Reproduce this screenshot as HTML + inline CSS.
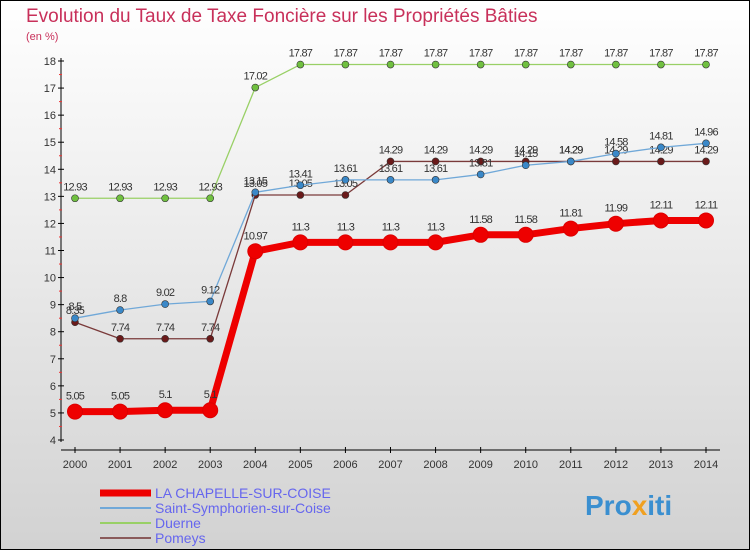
<!DOCTYPE html>
<html><head><meta charset="utf-8"><style>
body{margin:0;width:750px;height:550px;overflow:hidden;font-family:"Liberation Sans",sans-serif}
svg{display:block}
</style></head><body>
<svg id="c" width="750" height="550" xmlns="http://www.w3.org/2000/svg">
<defs><linearGradient id="bg" x1="0" y1="0" x2="0" y2="1"><stop offset="0" stop-color="#ffffff"/><stop offset="1" stop-color="#d2d2d2"/></linearGradient></defs>
<rect x="0.5" y="0.5" width="749" height="549" fill="url(#bg)" stroke="#000"/>
<text x="26" y="22" font-size="19" fill="#c8305a">Evolution du Taux de Taxe Foncière sur les Propriétés Bâties</text>
<text x="26" y="40" font-size="11" fill="#c8305a">(en %)</text>
<g id="axes"></g><g id="series"></g><g id="legend"></g>
<text x="585" y="515" font-size="28" font-weight="bold" fill="#3a8fd0">Pro<tspan fill="#f0a020">x</tspan>iti</text>
</svg>
<script>
const years=[2000,2001,2002,2003,2004,2005,2006,2007,2008,2009,2010,2011,2012,2013,2014];
const yTicks=[4,5,6,7,8,9,10,11,12,13,14,15,16,17,18];
const seriesNames=["LA CHAPELLE-SUR-COISE","Saint-Symphorien-sur-Coise","Duerne","Pomeys"];
const laChapelle=[5.05,5.05,5.1,5.1,10.97,11.3,11.3,11.3,11.3,11.58,11.58,11.81,11.99,12.11,12.11];
const saintSymph=[8.5,8.8,9.02,9.12,13.15,13.41,13.61,13.61,13.61,13.81,14.15,14.29,14.58,14.81,14.96];
const duerne=[12.93,12.93,12.93,12.93,17.02,17.87,17.87,17.87,17.87,17.87,17.87,17.87,17.87,17.87,17.87];
const pomeys=[8.35,7.74,7.74,7.74,13.05,13.05,13.05,14.29,14.29,14.29,14.29,14.29,14.29,14.29,14.29];
const NS="http://www.w3.org/2000/svg";
const X=i=>75+i*(706-75)/(years.length-1);
const Y=v=>440-(v-4)*(440-61)/14;
function mk(t,a,p){const e=document.createElementNS(NS,t);for(const k in a)e.setAttribute(k,a[k]);p.appendChild(e);return e;}
const ax=document.getElementById('axes');
let yl=mk('line',{x1:61,y1:58,x2:61,y2:442,stroke:'#000'},ax);


let xl=mk('line',{x1:61,y1:450,x2:720,y2:450,stroke:'#000'},ax);


yTicks.forEach(v=>{mk('line',{x1:58,y1:Y(v),x2:64,y2:Y(v),stroke:'#000'},ax);
 if(v<18)mk('line',{x1:59,y1:Y(v+0.5),x2:62,y2:Y(v+0.5),stroke:'#e33'},ax);
 const t=mk('text',{x:56,y:Y(v)+4,'font-size':11,'text-anchor':'end',fill:'#333'},ax);t.textContent=v;
 
 });
years.forEach((y,i)=>{mk('line',{x1:X(i),y1:447,x2:X(i),y2:453,stroke:'#000'},ax);
 const t=mk('text',{x:X(i),y:468,'font-size':11,'text-anchor':'middle',fill:'#333'},ax);t.textContent=y;
 
 });
const sg=document.getElementById('series');
const defs=[[pomeys,'#7a3a3a','#6a1a1a',1.3,3.5],[duerne,'#99d066','#70c040',1.3,3.5],[saintSymph,'#70a8d8','#3a88c8',1.3,3.5],[laChapelle,'#ee0000','#ee0000',7,7.5]];
const names=['pomeys','duerne','saint-symphorien','la-chapelle'];
defs.forEach((d,k)=>{const [vals,lc,pc,w,r]=d;
 const g=mk('g',{},sg);
 
 
 mk('polyline',{points:vals.map((v,i)=>X(i)+','+Y(v)).join(' '),fill:'none',stroke:lc,'stroke-width':w,'stroke-linejoin':'round'},g);
 vals.forEach((v,i)=>{const c=mk('circle',{cx:X(i),cy:Y(v),r:r,fill:pc,stroke:k==3?'#d00':'#333','stroke-width':k==3?1:0.6},g);
  
  
  const t=mk('text',{x:X(i),y:Y(v)-(k==3?12:8),'font-size':11,'text-anchor':'middle',fill:'#333','letter-spacing':'-0.8'},g);t.textContent=v;
  
  });});
const lg=document.getElementById('legend');
const lcols=['#ee0000','#70a8d8','#99d066','#8a5a5a'],lw=[7,2,2,2];
seriesNames.forEach((n,i)=>{const y=493+i*15;
 const g=mk('g',{},lg);
 
 
 mk('line',{x1:100,y1:y,x2:151,y2:y,stroke:lcols[i],'stroke-width':lw[i]},g);
 const t=mk('text',{x:155,y:y+5,'font-size':14,fill:'#6666ee'},g);t.textContent=n;});
</script>
</body></html>
